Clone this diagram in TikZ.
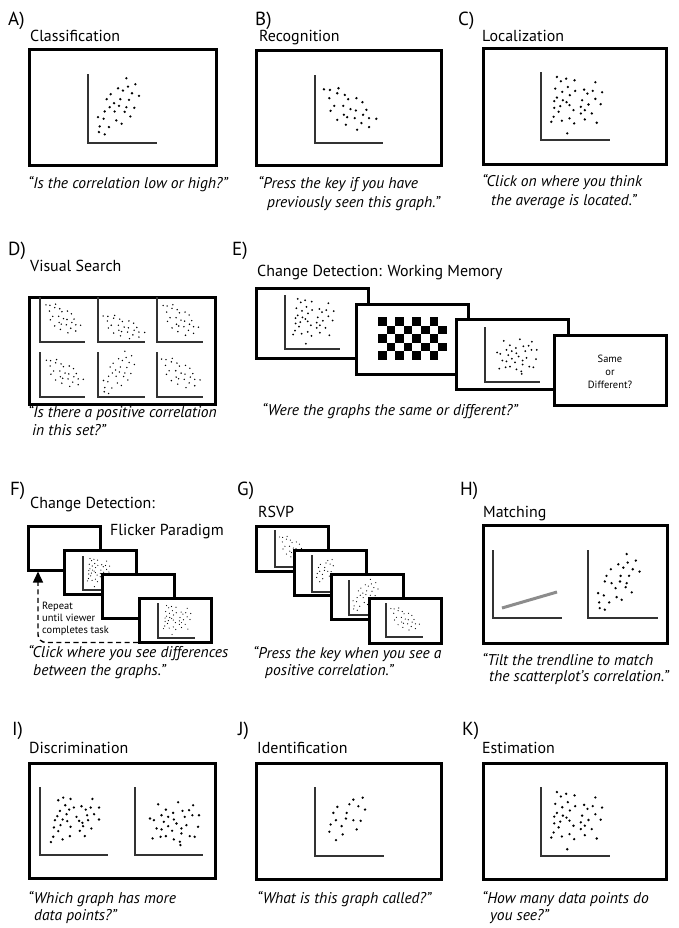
\documentclass[tikz,border=0pt]{standalone}
\usepackage{fontspec}
\setmainfont{PT Sans}
\usetikzlibrary{arrows.meta}
\tikzset{
 frame/.style={draw=black,line width=3bp,fill=white,inner sep=0pt},
 axisline/.style={draw=black!80,line width=1.4bp},
 lab/.style={anchor=base west,inner sep=0pt,font=\fontsize{19}{22}\selectfont},
 ttl/.style={anchor=base west,inner sep=0pt,font=\fontsize{16}{19}\selectfont},
 qt/.style={anchor=base west,inner sep=0pt,font=\fontsize{15.6}{18}\selectfont\itshape},
 small/.style={inner sep=0pt,font=\fontsize{10.5}{12}\selectfont},
}
\newcommand{\scat}[6]{\foreach \u/\v in #6 {\fill[black] ({#1+\u*#3},{#2-\v*#4}) circle[radius=#5bp];}}
\newcommand{\axs}[4]{\draw[axisline] ({#1},{#2-#4}) |- ({#1+#3},{#2});}
\def\pA{.556/.938,.686/.851,.435/.793,.507/.760,.580/.817,.638/.721,.739/.683,.329/.707,.271/.635,.469/.635,.594/.625,.377/.577,.314/.519,.449/.538,.556/.519,.671/.510,.242/.457,.386/.457,.531/.452,.145/.375,.227/.351,.411/.327,.614/.385,.488/.279,.169/.240,.304/.231,.159/.159,.242/.125}
\def\pB{.132/.790,.220/.780,.346/.805,.210/.659,.327/.732,.439/.707,.488/.644,.610/.659,.698/.600,.283/.546,.415/.546,.522/.498,.600/.478,.756/.488,.229/.473,.424/.415,.473/.380,.585/.366,.707/.415,.795/.366,.902/.356,.327/.341,.683/.293,.454/.268,.795/.234,.620/.195}
\def\pC{.231/.927,.288/.863,.365/.902,.486/.878,.788/.849,.207/.756,.308/.707,.389/.780,.495/.722,.625/.741,.673/.683,.750/.722,.885/.702,.231/.624,.418/.659,.192/.571,.317/.585,.370/.556,.596/.585,.788/.605,.865/.527,.279/.498,.413/.512,.471/.439,.577/.488,.635/.439,.688/.522,.192/.473,.255/.415,.577/.390,.736/.390,.183/.341,.149/.268,.303/.283,.413/.317,.481/.244,.635/.302,.808/.254,.380/.098}
\def\pH{.553/.941,.683/.844,.433/.790,.505/.741,.567/.815,.639/.717,.736/.683,.327/.717,.264/.620,.466/.620,.587/.620,.240/.537,.337/.512,.457/.537,.553/.512,.144/.366,.226/.332,.394/.439,.538/.454,.625/.376,.159/.229,.303/.229,.409/.307,.481/.268,.168/.146,.240/.122}
\def\pIl{.268/.805,.341/.844,.449/.824,.771/.824,.371/.732,.293/.649,.429/.668,.498/.698,.610/.717,.673/.668,.746/.698,.868/.698,.254/.571,.390/.600,.537/.561,.693/.585,.795/.600,.220/.512,.332/.522,.400/.498,.576/.502,.624/.473,.707/.512,.868/.522,.205/.405,.302/.439,.449/.415,.634/.424,.756/.390,.268/.351,.585/.356,.195/.268,.332/.229,.439/.278,.659/.278,.161/.190}
\def\pIr{.341/.746,.634/.776,.854/.732,.454/.668,.561/.620,.698/.649,.795/.659,.390/.585,.488/.561,.220/.537,.278/.512,.571/.522,.732/.561,.844/.585,.941/.585,.424/.488,.610/.463,.488/.424,.756/.439,.927/.415,.317/.390,.390/.376,.546/.356,.683/.390,.683/.317,.805/.278,.878/.268,.259/.244,.376/.268,.454/.278,.571/.229,.659/.195,.668/.146}
\def\pJ{.691/.846,.556/.817,.498/.750,.628/.721,.725/.673,.324/.712,.266/.625,.459/.625,.449/.543,.304/.519,.556/.519,.662/.510,.227/.457,.386/.433,.604/.385,.208/.351,.401/.313,.304/.231}
\begin{document}
\begin{tikzpicture}[x=1bp,y=-1bp]
\useasboundingbox[fill=white] (0,0) rectangle (679,928);
% ---------- A ----------
\node[lab] (labA) at (8,25) {A)};
\node[ttl] (ttlA) at (30,41) {Classification};
\node[frame,minimum width=187bp,minimum height=116bp] (bA) at (123,107.5) {};
\axs{88}{143}{69}{69}
\scat{88}{143}{69}{69}{1.3}{\pA}
\node[qt] (qA) at (28,188) {“Is the correlation low or high?”};
% ---------- B ----------
\node[lab] (labB) at (255,25) {B)};
\node[ttl] (ttlB) at (259,41) {Recognition};
\node[frame,minimum width=185bp,minimum height=115bp] (bB) at (349,108) {};
\axs{315}{143}{68}{68}
\scat{315}{143}{68}{68}{1.3}{\pB}
\node[qt] (qB1) at (258,188) {“Press the key if you have};
\node[qt] (qB2) at (267,207) {previously seen this graph.”};
% ---------- C ----------
\node[lab] (labC) at (458,25) {C)};
\node[ttl] (ttlC) at (482,41) {Localization};
\node[frame,minimum width=183bp,minimum height=116bp] (bC) at (575,106.5) {};
\axs{541}{140}{69}{68}
\scat{541}{140}{69}{68}{1.3}{\pC}
\node[qt] (qC1) at (482,186) {“Click on where you think};
\node[qt] (qC2) at (491,205) {the average is located.”};
% ---------- D ----------
\node[lab] (labD) at (8,255) {D)};
\node[ttl] (ttlD) at (30,271) {Visual Search};
\node[frame,minimum width=186bp,minimum height=107bp] (bD) at (122.5,351) {};
\axs{40}{342}{45}{45}
\scat{40}{342}{45}{47}{0.8}{\pB}
\axs{98}{342}{47}{45}
\scat{96}{346}{54}{38}{0.8}{\pB}
\axs{157}{342}{46}{45}
\scat{157}{345}{46}{50}{0.8}{\pB}
\axs{40}{397}{45}{45}
\scat{40}{395}{48}{44}{0.8}{\pB}
\axs{98}{397}{47}{45}
\scat{96}{400}{52}{52}{0.8}{\pA}
\axs{157}{397}{46}{45}
\scat{155}{397}{50}{48}{0.8}{\pB}
\node[qt] (qD1) at (28,417) {“Is there a positive correlation};
\node[qt] (qD2) at (32,435) {in this set?”};
% ---------- E ----------
\node[lab] (labE) at (232,255) {E)};
\node[ttl] (ttlE) at (257,276) {Change Detection: Working Memory};
\node[frame,minimum width=112bp,minimum height=70bp] (e1) at (312.5,323) {};
\axs{285}{349}{55}{54}
\scat{285}{349}{55}{54}{1.0}{\pC}
\node[frame,minimum width=112bp,minimum height=70bp] (e2) at (412.5,339) {};
\foreach \j in {0,...,4} \foreach \i in {0,...,7} {\ifodd\numexpr\i+\j\relax\else \fill ({378+8.6*\i},{317+8.6*\j}) rectangle ++(8.6,8.6);\fi}
\node[frame,minimum width=112bp,minimum height=70bp] (e3) at (512.5,354.5) {};
\axs{485}{382}{55}{55}
\scat{485}{382}{55}{55}{1.0}{\pIr}
\node[frame,minimum width=112bp,minimum height=70bp] (e4) at (610.5,370) {};
\node[small,align=center] (sod) at (610,372) {Same\\[1pt]or\\[1pt]Different?};
\node[qt] (qE) at (262,415) {“Were the graphs the same or different?”};
% ---------- F ----------
\node[lab] (labF) at (10,495) {F)};
\node[ttl] (ttlF1) at (30,508) {Change Detection:};
\node[ttl] (ttlF2) at (110,535) {Flicker Paradigm};
\node[frame,minimum width=72bp,minimum height=44bp] (f1) at (64.5,548.5) {};
\node[frame,minimum width=72bp,minimum height=44bp] (f2) at (100.5,572) {};
\axs{83}{590}{30}{34}
\scat{83}{590}{30}{34}{0.6}{\pC}
\node[frame,minimum width=72bp,minimum height=44bp] (f3) at (138,596.5) {};
\node[frame,minimum width=72bp,minimum height=44bp] (f4) at (175.5,620.5) {};
\axs{158}{638}{37}{35}
\scat{158}{638}{37}{35}{0.6}{\pC}
\coordinate (fstart) at ([yshift=1.5bp]f4.south west);
\coordinate (fcorner) at (fstart -| {38,0});
\coordinate (fend) at ([xshift=11bp,yshift=0.5bp]f1.south west);
\draw[line width=1.4bp,dash pattern=on 5bp off 3.5bp,rounded corners=8bp,-{Triangle[length=11bp,width=10bp]}] (fstart) -- (fcorner) -- (fend);
\node[small,anchor=base west] (rep1) at (42,609) {Repeat};
\node[small,anchor=base west] (rep2) at (42,621) {until viewer};
\node[small,anchor=base west] (rep3) at (42,633) {completes task};
\node[qt] (qF1) at (28,657) {“Click where you see differences};
\node[qt] (qF2) at (33,675) {between the graphs.”};
% ---------- G ----------
\node[lab] (labG) at (237,495) {G)};
\node[ttl] (ttlG) at (258,517) {RSVP};
\node[frame,minimum width=72bp,minimum height=45bp] (g1) at (292.5,549) {};
\axs{275}{567}{37}{37}
\scat{275}{567}{35}{38}{0.6}{\pB}
\node[frame,minimum width=72bp,minimum height=45bp] (g2) at (330.5,572.5) {};
\axs{312}{592}{37}{37}
\scat{310}{590}{32}{36}{0.6}{\pJ}
\node[frame,minimum width=72bp,minimum height=45bp] (g3) at (367.5,597) {};
\axs{349}{615}{37}{35}
\scat{347}{615}{42}{38}{0.6}{\pA}
\node[frame,minimum width=72bp,minimum height=45bp] (g4) at (405,621) {};
\axs{386}{637}{37}{34}
\scat{386}{637}{37}{36}{0.6}{\pB}
\node[qt] (qG1) at (253,658) {“Press the key when you see a};
\node[qt] (qG2) at (265,675) {positive correlation.”};
% ---------- H ----------
\node[lab] (labH) at (460,495) {H)};
\node[ttl] (ttlH) at (483,517) {Matching};
\node[frame,minimum width=184bp,minimum height=118bp] (bH) at (575.5,584.5) {};
\axs{493}{618}{69}{68}
\coordinate (tl1) at (502,608);
\coordinate (tl2) at (557,592);
\draw[line width=3bp,black!45] (tl1) -- (tl2);
\axs{588}{618}{70}{68}
\scat{588}{618}{70}{68}{1.3}{\pH}
\node[qt] (qH1) at (482,665) {“Tilt the trendline to match};
\node[qt] (qH2) at (489,681) {the scatterplot’s correlation.”};
% ---------- I ----------
\node[lab] (labI) at (12,735) {I)};
\node[ttl] (ttlI) at (29,753) {Discrimination};
\node[frame,minimum width=186bp,minimum height=115bp] (bI) at (122.5,821) {};
\axs{40}{855}{68}{68}
\scat{40}{855}{68}{68}{1.3}{\pIl}
\axs{135}{855}{68}{68}
\scat{135}{855}{68}{68}{1.3}{\pIr}
\node[qt] (qI1) at (28,903) {“Which graph has more};
\node[qt] (qI2) at (34,920) {data points?”};
% ---------- J ----------
\node[lab] (labJ) at (238,735) {J)};
\node[ttl] (ttlJ) at (257,753) {Identification};
\node[frame,minimum width=185bp,minimum height=116bp] (bJ) at (349,821.5) {};
\axs{315}{856}{69}{69}
\scat{315}{856}{69}{69}{1.3}{\pJ}
\node[qt] (qJ) at (257,903) {“What is this graph called?”};
% ---------- K ----------
\node[lab] (labK) at (462,735) {K)};
\node[ttl] (ttlK) at (482,753) {Estimation};
\node[frame,minimum width=183bp,minimum height=116bp] (bK) at (575,821.5) {};
\axs{541}{856}{69}{69}
\scat{541}{856}{69}{69}{1.3}{\pC}
\node[qt] (qK1) at (482,903) {“How many data points do};
\node[qt] (qK2) at (490,920) {you see?”};
\end{tikzpicture}
\end{document}
